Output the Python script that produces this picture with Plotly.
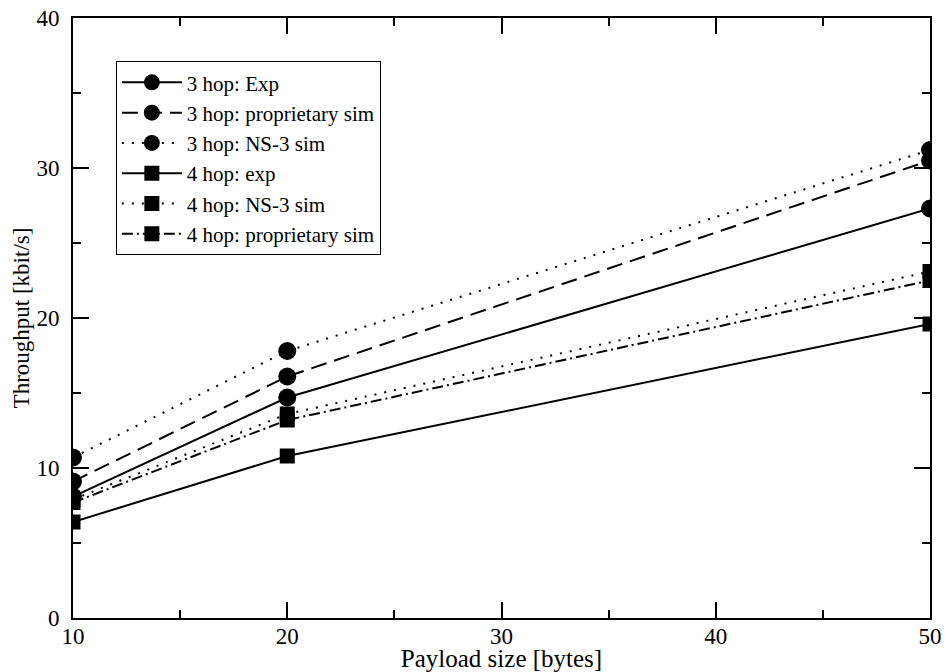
import plotly.graph_objects as go

payload = [10, 20, 50]
hop3_exp = [8.1, 14.7, 27.3]
hop3_prop = [9.1, 16.1, 30.5]
hop3_ns3 = [10.7, 17.8, 31.2]
hop4_exp = [6.4, 10.8, 19.6]
hop4_ns3 = [7.9, 13.6, 23.1]
hop4_prop = [7.7, 13.2, 22.5]

series = [
    ("3 hop: Exp", hop3_exp, "circle", "solid"),
    ("3 hop: proprietary sim", hop3_prop, "circle", "16px,8px"),
    ("3 hop: NS-3 sim", hop3_ns3, "circle", "2px,8px"),
    ("4 hop: exp", hop4_exp, "square", "solid"),
    ("4 hop: NS-3 sim", hop4_ns3, "square", "2px,8px"),
    ("4 hop: proprietary sim", hop4_prop, "square", "11px,4px,2px,4px"),
]

fig = go.Figure()
for name, vals, sym, dash in series:
    fig.add_trace(go.Scatter(
        x=payload, y=vals, name=name, mode="lines+markers",
        line=dict(color="black", width=2, dash=dash),
        marker=dict(symbol=sym, color="black", size=18 if sym == "circle" else 15),
    ))

font = "Liberation Serif"
axis_common = dict(
    showline=True, linecolor="black", linewidth=2, mirror="ticks",
    ticks="inside", ticklen=16, tickwidth=1.5, tickcolor="black",
    showgrid=False, zeroline=False, ticklabeloverflow="allow",
    tickfont=dict(family=font, size=23, color="black"),
)
minor = dict(ticks="inside", ticklen=8, dtick=5, tickcolor="black", tickwidth=1.5, showgrid=False)
fig.update_xaxes(
    range=[10, 50], tick0=10, dtick=10, minor=minor, ticklabelstandoff=-4,
    title=dict(text="Payload size [bytes]", font=dict(family=font, size=25, color="black"), standoff=4),
    **axis_common,
)
fig.update_yaxes(
    range=[0, 40], tick0=0, dtick=10, minor=minor, ticklabelstandoff=7,
    title=dict(text="Throughput [kbit/s]", font=dict(family=font, size=23, color="black"), standoff=0),
    **axis_common,
)
fig.update_layout(
    width=946, height=672,
    margin=dict(l=73, r=16, t=18, b=54, autoexpand=False),
    plot_bgcolor="white", paper_bgcolor="white",
    font=dict(family=font, color="black"),
    legend=dict(
        x=0.05, y=0.928, xanchor="left", yanchor="top",
        bordercolor="black", borderwidth=1, bgcolor="white",
        font=dict(family=font, size=21, color="black"),
        tracegroupgap=0, itemwidth=60,
    ),
)
fig.write_html(
    "out.html",
    config={"displayModeBar": False},
    post_script="document.body.style.margin='0';document.body.style.overflow='hidden';",
)
